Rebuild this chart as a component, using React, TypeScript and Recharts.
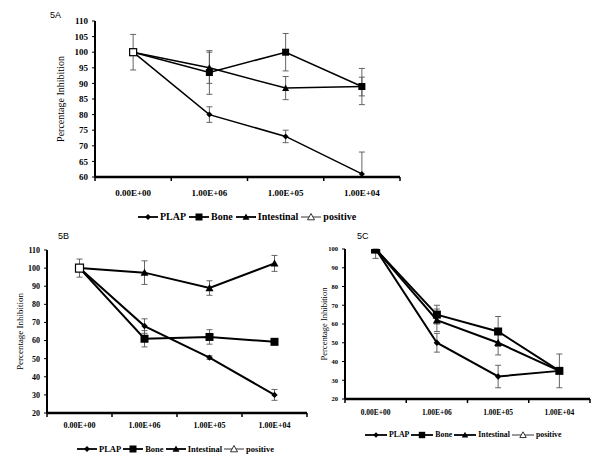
import React from 'react';
import { LineChart, Line, XAxis, YAxis, ErrorBar } from 'recharts';

// ---------- data ----------
const categories = ['0.00E+00', '1.00E+06', '1.00E+05', '1.00E+04'];
const seriesNames = ['PLAP', 'Bone', 'Intestinal', 'positive'];

type Err = number | [number, number]; // [below, above]

// Panel 5A
const aPlap = [100, 80, 73, 61];
const aPlapErr: Err[] = [5.7, 2.5, 2, [1, 7]];
const aBone = [100, 93.5, 100, 89];
const aBoneErr: Err[] = [0, 7, 6, 5.8];
const aInt = [100, 95, 88.5, 89];
const aIntErr: Err[] = [0, 5, 3.7, 3];
const aPos = [100, null, null, null];
const aTicks = [60, 65, 70, 75, 80, 85, 90, 95, 100, 105, 110];

// Panel 5B
const bPlap = [100, 68, 50.6, 30];
const bPlapErr: Err[] = [5, 4, 1, 3];
const bBone = [100, 61, 62, 59.3];
const bBoneErr: Err[] = [0, 4.5, 4, 0.5];
const bInt = [100, 97.5, 89, 102.6];
const bIntErr: Err[] = [0, 6.5, 4, 4.4];
const bPos = [100, null, null, null];
const bTicks = [20, 30, 40, 50, 60, 70, 80, 90, 100, 110];

// Panel 5C
const cPlap = [100, 50, 32, 35];
const cPlapErr: Err[] = [[5, 0], 5, 6, 9];
const cBone = [100, 65, 56, 35];
const cBoneErr: Err[] = [0, 5, 8, 0];
const cInt = [100, 62, 50, 35];
const cIntErr: Err[] = [0, 6, 6.5, 0];
const cPos = [100, null, null, null];
const cTicks = [20, 30, 40, 50, 60, 70, 80, 90, 100];

const buildRows = (
  plap: number[], plapErr: Err[],
  bone: number[], boneErr: Err[],
  intes: number[], intesErr: Err[],
  pos: (number | null)[]
) =>
  categories.map((cat, i) => ({
    cat,
    plap: plap[i], plapErr: plapErr[i],
    bone: bone[i], boneErr: boneErr[i],
    intes: intes[i], intesErr: intesErr[i],
    pos: pos[i],
  }));

const rowsA = buildRows(aPlap, aPlapErr, aBone, aBoneErr, aInt, aIntErr, aPos);
const rowsB = buildRows(bPlap, bPlapErr, bBone, bBoneErr, bInt, bIntErr, bPos);
const rowsC = buildRows(cPlap, cPlapErr, cBone, cBoneErr, cInt, cIntErr, cPos);

// ---------- shapes ----------
type Kind = 'diamond' | 'square' | 'triangle' | 'openTriangle' | 'openSquare';

function Marker({ kind, cx, cy, s }: { kind: Kind; cx: number; cy: number; s: number }) {
  if (kind === 'diamond') {
    return <path d={`M${cx},${cy - s}L${cx + s},${cy}L${cx},${cy + s}L${cx - s},${cy}Z`} fill="#000" />;
  }
  if (kind === 'square') {
    return <rect x={cx - s} y={cy - s} width={2 * s} height={2 * s} fill="#000" />;
  }
  if (kind === 'openSquare') {
    return <rect x={cx - s} y={cy - s} width={2 * s} height={2 * s} fill="#fff" stroke="#000" strokeWidth={1.2} />;
  }
  if (kind === 'triangle') {
    return <path d={`M${cx},${cy - s}L${cx + s},${cy + s * 0.8}L${cx - s},${cy + s * 0.8}Z`} fill="#000" />;
  }
  return (
    <path d={`M${cx},${cy - s}L${cx + s},${cy + s * 0.8}L${cx - s},${cy + s * 0.8}Z`} fill="#fff" stroke="#000" strokeWidth={0.8} />
  );
}

const makeDot = (kind: Kind, s: number) => (p: any) => {
  if (p == null || p.cx == null || p.cy == null || p.value == null) {
    return <g key={`e-${p?.index}`} />;
  }
  return (
    <g key={`d-${kind}-${p.index}`}>
      <Marker kind={kind} cx={p.cx} cy={p.cy} s={s} />
    </g>
  );
};

const serif = '"Liberation Serif", "Times New Roman", serif';

const makeXTick = (band: number, count: number, fontSize: number, dy: number) => (props: any) => {
  const { x, y, payload, index } = props;
  const half = band / 2;
  return (
    <g>
      <line x1={x - half} x2={x - half} y1={y} y2={y + 4} stroke="#000" strokeWidth={1.5} />
      {index === count - 1 ? (
        <line x1={x + half} x2={x + half} y1={y} y2={y + 4} stroke="#000" strokeWidth={1.5} />
      ) : null}
      <text x={x} y={y + dy} textAnchor="middle" fontSize={fontSize} fontWeight="bold" fontFamily={serif} fill="#000">
        {payload.value}
      </text>
    </g>
  );
};

// ---------- legend ----------
const legendKinds: Kind[] = ['diamond', 'square', 'triangle', 'openTriangle'];

function LegendRow({ left, top, fontSize, iconW, gap, s }: { left: number; top: number; fontSize: number; iconW: number; gap: number; s: number }) {
  return (
    <div
      style={{
        position: 'absolute', left, top, display: 'flex', alignItems: 'center',
        fontFamily: serif, fontWeight: 'bold', fontSize, lineHeight: 1, whiteSpace: 'nowrap', color: '#000',
      }}
    >
      {seriesNames.map((name, i) => (
        <div key={name} style={{ display: 'flex', alignItems: 'center', marginRight: gap }}>
          <svg width={iconW} height={10} style={{ marginRight: 2 }}>
            <line x1={0} x2={iconW} y1={5} y2={5} stroke="#000" strokeWidth={legendKinds[i] === 'openTriangle' ? 0.8 : 1.8} />
            <Marker kind={legendKinds[i]} cx={iconW / 2} cy={5} s={legendKinds[i] === 'diamond' ? s * 0.85 : s} />
          </svg>
          <span>{name}</span>
        </div>
      ))}
    </div>
  );
}

// ---------- panel ----------
type PanelCfg = {
  rows: any[];
  left: number; top: number; width: number; height: number;
  margin: { top: number; right: number; left: number; bottom: number };
  yWidth: number;
  ticks: number[];
  domain: [number, number];
  tickFont: number; xTickFont: number; xDy: number;
  labelFont: number; labelOffset: number;
  lineW: number; markS: number; diamondS: number;
  posFirst: boolean;
};

function Panel(cfg: PanelCfg) {
  const plotW = cfg.width - cfg.margin.left - cfg.margin.right - cfg.yWidth;
  const band = plotW / categories.length;
  const errProps = { width: 3, strokeWidth: 0.9, stroke: '#555' };
  const posLine = (
    <Line
      key="pos"
      dataKey="pos"
      stroke="#000"
      strokeWidth={0.8}
      isAnimationActive={false}
      dot={makeDot('openSquare', cfg.markS)}
      activeDot={false}
      connectNulls={false}
    />
  );
  return (
    <div style={{ position: 'absolute', left: cfg.left, top: cfg.top }}>
      <LineChart width={cfg.width} height={cfg.height} data={cfg.rows} margin={cfg.margin}>
        <XAxis
          dataKey="cat"
          scale="band"
          height={20}
          tickSize={0}
          tickMargin={0}
          interval={0}
          axisLine={{ stroke: '#000', strokeWidth: 2.5 }}
          tickLine={false}
          tick={makeXTick(band, categories.length, cfg.xTickFont, cfg.xDy)}
        />
        <YAxis
          width={cfg.yWidth}
          domain={cfg.domain}
          ticks={cfg.ticks}
          interval={0}
          allowDataOverflow
          tickSize={3}
          tickMargin={4}
          axisLine={{ stroke: '#000', strokeWidth: 2 }}
          tickLine={{ stroke: '#000', strokeWidth: 1 }}
          tick={{ fontSize: cfg.tickFont, fontFamily: serif, fontWeight: 'bold', fill: '#000' }}
          label={{
            value: 'Percentage Inhibition',
            angle: -90,
            position: 'insideLeft',
            offset: cfg.labelOffset,
            style: { textAnchor: 'middle', fontSize: cfg.labelFont, fontFamily: serif, fill: '#000' },
          }}
        />
        {cfg.posFirst ? posLine : null}
        <Line dataKey="plap" stroke="#000" strokeWidth={cfg.lineW} isAnimationActive={false} dot={makeDot('diamond', cfg.diamondS)} activeDot={false}>
          <ErrorBar dataKey="plapErr" direction="y" {...errProps} />
        </Line>
        <Line dataKey="bone" stroke="#000" strokeWidth={cfg.lineW} isAnimationActive={false} dot={makeDot('square', cfg.markS)} activeDot={false}>
          <ErrorBar dataKey="boneErr" direction="y" {...errProps} />
        </Line>
        <Line dataKey="intes" stroke="#000" strokeWidth={cfg.lineW} isAnimationActive={false} dot={makeDot('triangle', cfg.markS)} activeDot={false}>
          <ErrorBar dataKey="intesErr" direction="y" {...errProps} />
        </Line>
        {cfg.posFirst ? null : posLine}
      </LineChart>
    </div>
  );
}

const panelLabel = (text: string, left: number, top: number, size: number) => (
  <div
    style={{
      position: 'absolute', left, top, fontFamily: '"Liberation Sans", Arial, sans-serif',
      fontSize: size, lineHeight: 1, color: '#000',
    }}
  >
    {text}
  </div>
);

export default function App() {
  return (
    <div style={{ position: 'absolute', left: 0, top: 0, width: 600, height: 462, background: '#fff', overflow: 'hidden' }}>
      <Panel
        rows={rowsA}
        left={0} top={0} width={420} height={235}
        margin={{ top: 21, right: 20, left: 55, bottom: 38 }}
        yWidth={40}
        ticks={aTicks}
        domain={[60, 110]}
        tickFont={9} xTickFont={9} xDy={19}
        labelFont={10} labelOffset={5}
        lineW={1.5} markS={3.5} diamondS={3}
        posFirst={false}
      />
      <Panel
        rows={rowsB}
        left={0} top={230} width={330} height={210}
        margin={{ top: 20, right: 23, left: 7, bottom: 7 }}
        yWidth={40}
        ticks={bTicks}
        domain={[20, 110]}
        tickFont={8} xTickFont={8} xDy={15}
        labelFont={9} labelOffset={13}
        lineW={2} markS={4} diamondS={3.2}
        posFirst={false}
      />
      <Panel
        rows={rowsC}
        left={300} top={230} width={310} height={196}
        margin={{ top: 19, right: 20, left: 5, bottom: 7 }}
        yWidth={40}
        ticks={cTicks}
        domain={[20, 100]}
        tickFont={6.5} xTickFont={7.5} xDy={16}
        labelFont={8.5} labelOffset={19}
        lineW={2} markS={4} diamondS={3.2}
        posFirst={true}
      />
      {panelLabel('5A', 50, 11, 9)}
      {panelLabel('5B', 58, 232, 9)}
      {panelLabel('5C', 357, 232, 9)}
      <LegendRow left={138} top={212} fontSize={10} iconW={20} gap={3} s={3.5} />
      <LegendRow left={77} top={444} fontSize={8.5} iconW={20} gap={2} s={3.5} />
      <LegendRow left={365} top={430} fontSize={7.8} iconW={22} gap={2} s={3.2} />
    </div>
  );
}
